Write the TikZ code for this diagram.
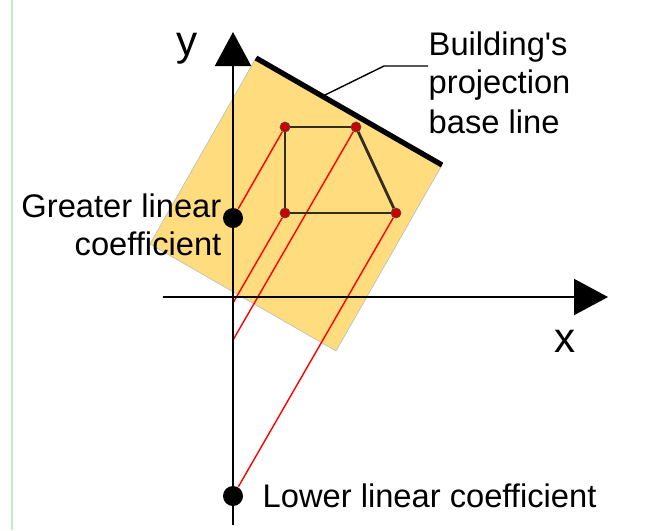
\documentclass[tikz,border=0pt]{standalone}
\usepackage{fontspec}
\setmainfont{Liberation Sans}
\usetikzlibrary{arrows.meta}
\definecolor{planfill}{RGB}{255,220,125}
\definecolor{edgegreen}{RGB}{190,240,190}
\definecolor{wallcolor}{RGB}{50,45,30}
\tikzset{
  axisline/.style={line width=0.6pt, black, -{Triangle[length=0.34cm,width=0.36cm]}},
  wall/.style={line width=0.8pt, wallcolor},
  projline/.style={line width=0.4pt, red},
  vertexdot/.style={circle, fill=red!80!black, draw=black!70, line width=0.2pt, inner sep=0pt, minimum size=0.1cm},
  interceptdot/.style={circle, fill=black, inner sep=0pt, minimum size=0.2cm},
  label/.style={font=\fontsize{9.3}{11}\selectfont, inner sep=0pt},
  axislabel/.style={font=\fontsize{12}{14}\selectfont, inner sep=0pt}
}
\begin{document}
\begin{tikzpicture}
      \useasboundingbox (0,0) rectangle (6.5,5.3);
      \draw[edgegreen, line width=0.5pt] (0.12,0) -- (0.12,5.3);
      % plan area
      \coordinate (baseleft) at (2.56,4.72);
      \coordinate (baseright) at (4.42,3.65);
      \fill[planfill, draw=gray!50, line width=0.2pt] (baseleft) -- (baseright) -- (3.36,1.79) -- (1.50,2.86) -- cycle;
      % building corners
      \node[vertexdot] (cornerA) at (2.85,4.03) {};
      \node[vertexdot] (cornerB) at (3.56,4.03) {};
      \node[vertexdot] (cornerC) at (2.85,3.17) {};
      \node[vertexdot] (cornerD) at (3.96,3.17) {};
      % points on the y axis
      \node[interceptdot] (greater) at (2.33,3.12) {};
      \node[interceptdot] (lower) at (2.33,0.34) {};
      \coordinate (interceptC) at (2.33,2.27);
      \coordinate (interceptB) at (2.33,1.90);
      % projections
      \draw[projline] (cornerA) -- (greater);
      \draw[projline] (cornerC) -- (interceptC);
      \draw[projline] (cornerB) -- (interceptB);
      \draw[projline] (cornerD) -- (lower);
      % axes
      \coordinate (ystart) at (2.33,0.05);
      \coordinate (yend) at (2.33,4.98);
      \coordinate (xstart) at (1.63,2.33);
      \coordinate (xend) at (6.08,2.33);
      \draw[axisline] (ystart) -- (yend);
      \draw[axisline] (xstart) -- (xend);
      % building outline
      \draw[wall] (cornerA) -- (cornerB);
      \draw[wall] (cornerB) -- (cornerD);
      \draw[wall] (cornerD) -- (cornerC);
      \draw[wall] (cornerC) -- (cornerA);
      \draw[line width=1.5pt, black] (baseleft) -- (baseright);
      % texts
      \node[axislabel, anchor=base west] (ylabel) at (1.76,4.75) {y};
      \node[axislabel, anchor=base west] (xlabel) at (5.54,1.78) {x};
      \node[label, anchor=base west] (building) at (4.28,4.75) {Building\textquotesingle s};
      \node[label, anchor=base west] (projection) at (4.28,4.37) {projection};
      \node[label, anchor=base west] (baseline) at (4.28,3.97) {base line};
      \node[label, anchor=base east] (greatertext) at (2.22,3.13) {Greater linear};
      \node[label, anchor=base east] (coefftext) at (2.22,2.75) {coefficient};
      \node[label, anchor=base west] (lowertext) at (2.62,0.23) {Lower linear coefficient};
      % leader to the base line
      \coordinate (leadstart) at (3.25,4.35);
      \coordinate (leadbend) at (3.84,4.64);
      \coordinate (leadend) at (4.28,4.64);
      \draw[line width=0.4pt, black] (leadstart) -- (leadbend) -- (leadend);
    \end{tikzpicture}
\end{document}
